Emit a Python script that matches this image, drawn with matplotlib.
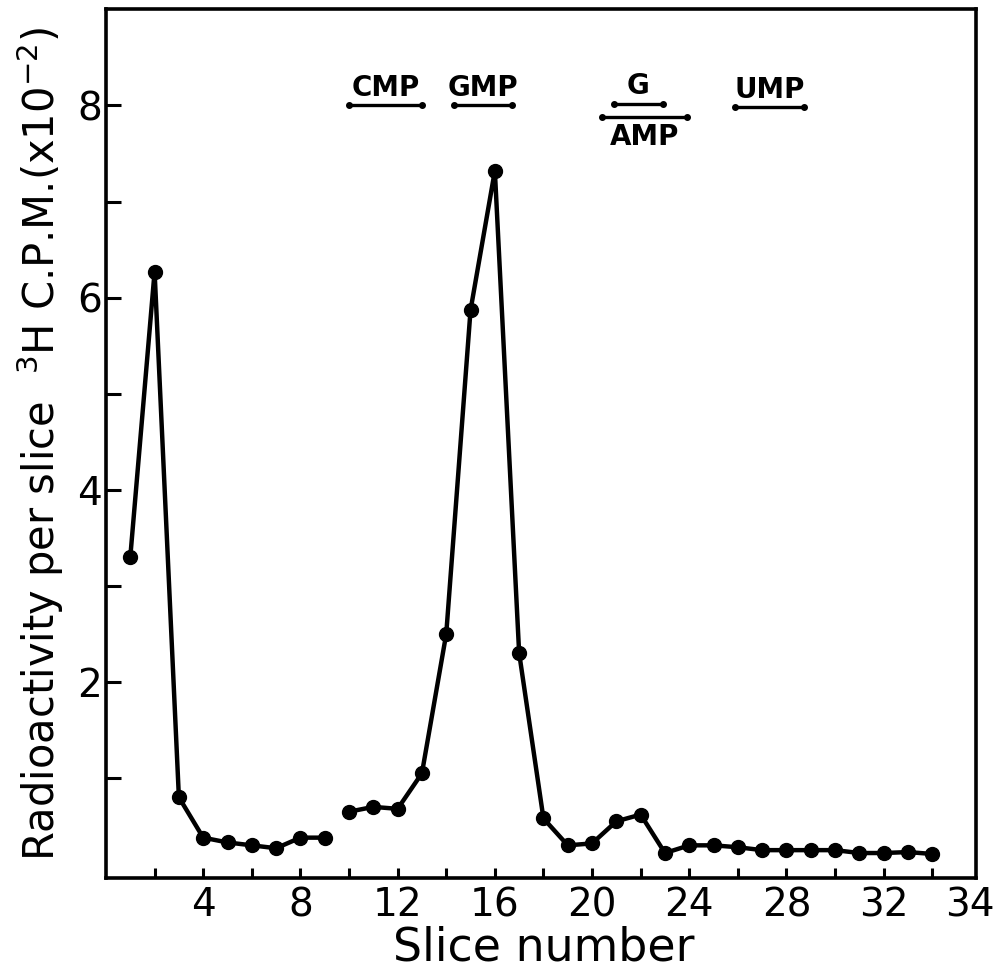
import matplotlib.pyplot as plt
import numpy as np

# slice number vs 3H counts (x10^-2)
slices = np.arange(1, 35)
cpm = [3.3, 6.27, 0.8, 0.38, 0.33, 0.3, 0.27, 0.38, 0.38,
       0.65, 0.7, 0.68, 1.05, 2.5, 5.87, 7.32, 2.3, 0.58, 0.3, 0.32,
       0.55, 0.62, 0.22, 0.3, 0.3, 0.28, 0.25, 0.25, 0.25, 0.25,
       0.22, 0.22, 0.23, 0.21]
# the curve is broken between slice 9 and slice 10
break_after = 9

# marker bands: label, start, end, height, label above/below
band_names = ['CMP', 'GMP', 'G', 'AMP', 'UMP']
band_start = [10.0, 14.3, 20.9, 20.4, 25.9]
band_end = [13.0, 16.7, 22.9, 23.9, 28.7]
band_y = [8.0, 8.0, 8.02, 7.88, 7.98]
band_side = ['above', 'above', 'above', 'below', 'above']

x_major = [4, 8, 12, 16, 20, 24, 28, 32]
x_minor = np.arange(2, 35, 2)
y_major = [2, 4, 6, 8]
y_minor = [1, 3, 5, 7]

plt.rcParams['mathtext.fontset'] = 'dejavusans'
fig = plt.figure(figsize=(9.97, 9.72), dpi=100, facecolor='w')
ax = fig.add_axes([0.1063, 0.0967, 0.8727, 0.8937])

ax.plot(slices[:break_after], cpm[:break_after], color='k', lw=3.2,
        marker='o', ms=10, solid_joinstyle='round')
ax.plot(slices[break_after:], cpm[break_after:], color='k', lw=3.2,
        marker='o', ms=10, solid_joinstyle='round')

for name, x0, x1, y, side in zip(band_names, band_start, band_end, band_y, band_side):
    ax.plot([x0, x1], [y, y], color='k', lw=2.4, marker='o', ms=4)
    xc = (x0 + x1) / 2.0
    if side == 'above':
        ax.text(xc, y + 0.04, name, ha='center', va='bottom',
                fontsize=20, fontweight='bold')
    else:
        ax.text(xc, y - 0.06, name, ha='center', va='top',
                fontsize=20, fontweight='bold')

ax.set_xlim(0, 35.8)
ax.set_ylim(-0.04, 9.0)

ax.set_xticks(x_major)
ax.set_xticks(x_minor, minor=True)
ax.set_yticks(y_major)
ax.set_yticks(y_minor, minor=True)
ax.tick_params(axis='both', which='both', direction='in', width=2.2,
               labelsize=28, color='k')
ax.tick_params(axis='x', which='both', length=7, pad=6)
ax.tick_params(axis='y', which='both', length=11, pad=3)
# last label sits out by the right edge of the frame
ax.annotate('34', xy=(35.55, 0), xycoords=('data', 'axes fraction'),
            xytext=(0, -6), textcoords='offset points',
            ha='center', va='top', fontsize=28)

for s in ax.spines.values():
    s.set_linewidth(2.6)

ax.set_xlabel('Slice number', fontsize=33, va='bottom')
ax.xaxis.set_label_coords(0.503, -0.106)
ax.set_ylabel('Radioactivity per slice  $^{3}$H C.P.M.(x10$^{-2}$)',
              fontsize=30, labelpad=8)

plt.savefig('out.png', dpi=100)
